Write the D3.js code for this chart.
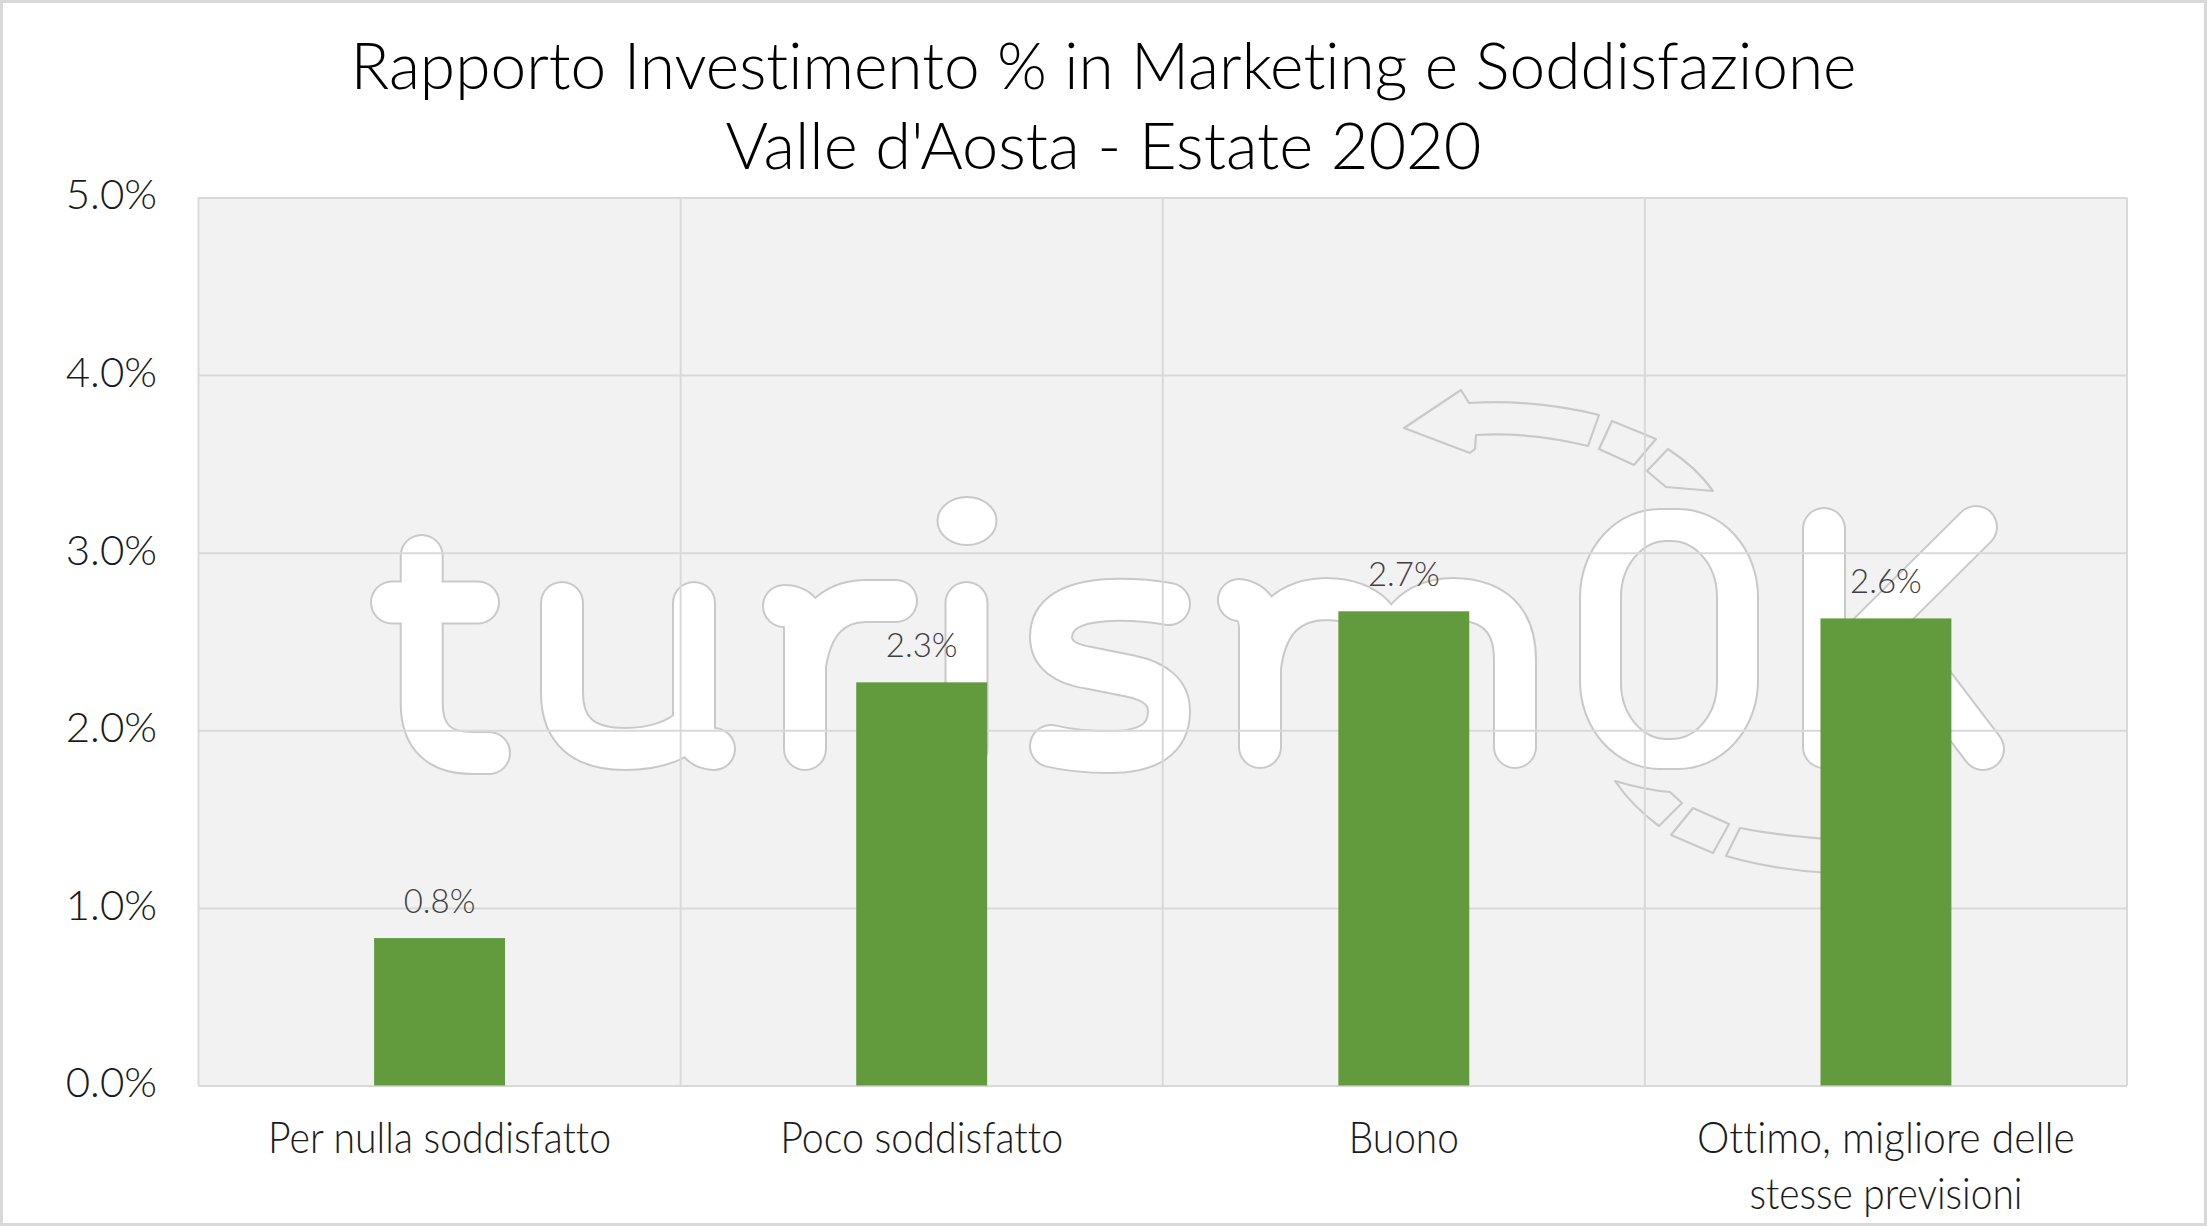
<!DOCTYPE html>
<html><head><meta charset="utf-8">
<script src="https://cdn.jsdelivr.net/npm/d3@7"></script>
<style>html,body{margin:0;padding:0;background:#fff;} svg{display:block;} text{font-variant-ligatures:none;font-feature-settings:"liga" 0,"clig" 0;}</style>
</head><body>
<svg id="chart" width="2207" height="1226"></svg>
<script>
// ---- data ----
const categories = ["Per nulla soddisfatto", "Poco soddisfatto", "Buono", "Ottimo, migliore delle stesse previsioni"];
const categoryLines = [["Per nulla soddisfatto"], ["Poco soddisfatto"], ["Buono"], ["Ottimo, migliore delle", "stesse previsioni"]];
const values = [0.0083, 0.0227, 0.0267, 0.0263];
const valueLabels = ["0.8%", "2.3%", "2.7%", "2.6%"];
const yTicks = [0, 0.01, 0.02, 0.03, 0.04, 0.05];
const yTickLabels = ["0.0%", "1.0%", "2.0%", "3.0%", "4.0%", "5.0%"];
const titleLines = ["Rapporto Investimento % in Marketing e Soddisfazione", "Valle d'Aosta - Estate 2020"];

// ---- layout ----
const W = 2207, H = 1226;
const L = 198.5, R = 2127, T = 197.5, B = 1085.5;
const FONT = "Lato, 'Open Sans', sans-serif";
const titleWidths = [1506, 760];
const xLabelWidths = [[343], [283], [110], [378, 273]];

const svg = d3.select("#chart");
svg.append("rect").attr("width", W).attr("height", H).attr("fill", "#fff");

const x = d3.scaleBand().domain(categories).range([L, R]).paddingInner(0).paddingOuter(0);
const y = d3.scaleLinear().domain([0, 0.05]).range([B, T]);

function fit(sel, target) {
  const n = sel.node();
  const w = n.getComputedTextLength();
  if (w > target) sel.attr("textLength", target).attr("lengthAdjust", "spacingAndGlyphs");
}

// plot background
svg.append("rect").attr("x", L).attr("y", T).attr("width", R - L).attr("height", B - T).attr("fill", "#f2f2f2");

// ---- watermark (decoration) ----
const wm = svg.append("g").attr("class", "watermark");
const GRAY = "#c9c9c9";
const strokes = [
  "M421.7 556 L421.7 703 Q421.7 753 472 753 L489 753",
  "M392 602.5 L478 602.5",
  "M562 603 L562 693 Q562 749 625 749 Q670 749 694 725",
  "M694 603 L694 728 Q696 748 714 749",
  "M784 606 Q805 606 805 630 L805 749",
  "M805 665 Q815 602 865 601 L896 601",
  "M966.5 603 L966.5 749",
  "M1169 604 Q1140 599 1110 600 Q1051 603 1051 637 Q1051 662 1090 668 L1130 676 Q1169 684 1169 711 Q1169 752 1110 752 Q1075 752 1051 746",
  "M1239 600 Q1260 603 1260 630 L1260 747",
  "M1260 668 Q1268 600 1326 599 Q1388 600 1388 660 L1388 747",
  "M1388 668 Q1396 600 1453 599 Q1515 600 1515 660 L1515 747",
  "M1824 529 L1824 747",
  "M1835 667 L1976 527",
  "M1900 640 L1983 749"
];
wm.selectAll("path.o").data(strokes).join("path").attr("class", "o").attr("d", d => d)
  .attr("fill", "none").attr("stroke", GRAY).attr("stroke-width", 44)
  .attr("stroke-linecap", "round").attr("stroke-linejoin", "round");
wm.selectAll("path.i").data(strokes).join("path").attr("class", "i").attr("d", d => d)
  .attr("fill", "none").attr("stroke", "#fff").attr("stroke-width", 40)
  .attr("stroke-linecap", "round").attr("stroke-linejoin", "round");
// i dot
wm.append("ellipse").attr("cx", 967).attr("cy", 521).attr("rx", 29.5).attr("ry", 24)
  .attr("fill", "#fff").attr("stroke", GRAY).attr("stroke-width", 2);
// the 0
wm.append("rect").attr("x", 1580).attr("y", 509).attr("width", 178).attr("height", 260).attr("rx", 80).attr("ry", 88)
  .attr("fill", "#fff").attr("stroke", GRAY).attr("stroke-width", 2);
wm.append("rect").attr("x", 1621).attr("y", 541).attr("width", 96).attr("height", 198).attr("rx", 46).attr("ry", 56)
  .attr("fill", "#f2f2f2").attr("stroke", GRAY).attr("stroke-width", 2);
// arrows
const arrows = [
  "M1404 428 L1461 390 L1469 403 Q1535 399 1599 415 L1588 446 Q1532 432 1476 435 L1475 449 L1470 453 Z",
  "M1612 421 L1656 439 L1634 465 L1599 449 Z",
  "M1668 449 Q1697 468 1713 491 L1666 487 L1647 471 Z",
  "M1615 781 Q1645 790 1670 792 L1682 803 L1659 826 Q1632 806 1615 781 Z",
  "M1693 808 L1729 824 L1713 853 L1671 835 Z",
  "M1740 828 Q1780 836 1830 839 L1830 873 Q1775 870 1726 856 Z"
];
wm.selectAll("path.a").data(arrows).join("path").attr("class", "a").attr("d", d => d)
  .attr("fill", "none").attr("stroke", GRAY).attr("stroke-width", 2.2).attr("stroke-linejoin", "round");

// ---- gridlines ----
const grid = svg.append("g").attr("transform", `translate(${L},0)`)
  .call(d3.axisLeft(y).tickValues(yTicks).tickSize(-(R - L)).tickFormat(""));
grid.select(".domain").remove();
grid.selectAll("line").attr("stroke", "#d9d9d9").attr("stroke-width", 2);

const bounds = categories.map(c => x(c)).concat([R]);
svg.append("g").selectAll("line").data(bounds).join("line")
  .attr("x1", d => d).attr("x2", d => d).attr("y1", T).attr("y2", B)
  .attr("stroke", "#d9d9d9").attr("stroke-width", 2);

// ---- bars ----
const barW = x.bandwidth() * 0.2715;
svg.append("g").selectAll("rect").data(values).join("rect")
  .attr("x", (d, i) => x(categories[i]) + (x.bandwidth() - barW) / 2)
  .attr("y", d => y(d))
  .attr("width", barW)
  .attr("height", d => y(0) - y(d))
  .attr("fill", "#629a3e");

// data labels
svg.append("g").selectAll("text").data(values).join("text")
  .attr("x", (d, i) => x(categories[i]) + x.bandwidth() / 2)
  .attr("y", d => y(d) - 25)
  .attr("text-anchor", "middle")
  .attr("font-family", FONT).attr("font-weight", 300).attr("font-size", 33)
  .attr("fill", "#404040")
  .text((d, i) => valueLabels[i]);

// ---- y axis labels ----
const ya = svg.append("g").attr("transform", `translate(${L},0)`)
  .call(d3.axisLeft(y).tickValues(yTicks).tickSize(0).tickPadding(41.5).tickFormat((d, i) => yTickLabels[i]));
ya.select(".domain").remove();
ya.selectAll("text").attr("font-family", FONT).attr("font-weight", 300).attr("font-size", 42)
  .attr("fill", "#1a1a1a").attr("dy", "0.27em");

// ---- x labels ----
categoryLines.forEach((lines, i) => {
  lines.forEach((ln, j) => {
    const t = svg.append("text")
      .attr("x", x(categories[i]) + x.bandwidth() / 2)
      .attr("y", 1153 + j * 56)
      .attr("text-anchor", "middle")
      .attr("font-family", FONT).attr("font-weight", 300).attr("font-size", 43)
      .attr("fill", "#1a1a1a")
      .text(ln);
    fit(t, xLabelWidths[i][j]);
  });
});

// ---- title ----
titleLines.forEach((ln, j) => {
  const t = svg.append("text")
    .attr("x", W / 2).attr("y", 89 + j * 80)
    .attr("text-anchor", "middle")
    .attr("font-family", FONT).attr("font-weight", 300).attr("font-size", 65)
    .attr("fill", "#000")
    .text(ln);
  fit(t, titleWidths[j]);
});

// outer border
svg.append("rect").attr("x", 1.5).attr("y", 1.5).attr("width", W - 3).attr("height", H - 3)
  .attr("fill", "none").attr("stroke", "#d9d9d9").attr("stroke-width", 3);
</script>
</body></html>
